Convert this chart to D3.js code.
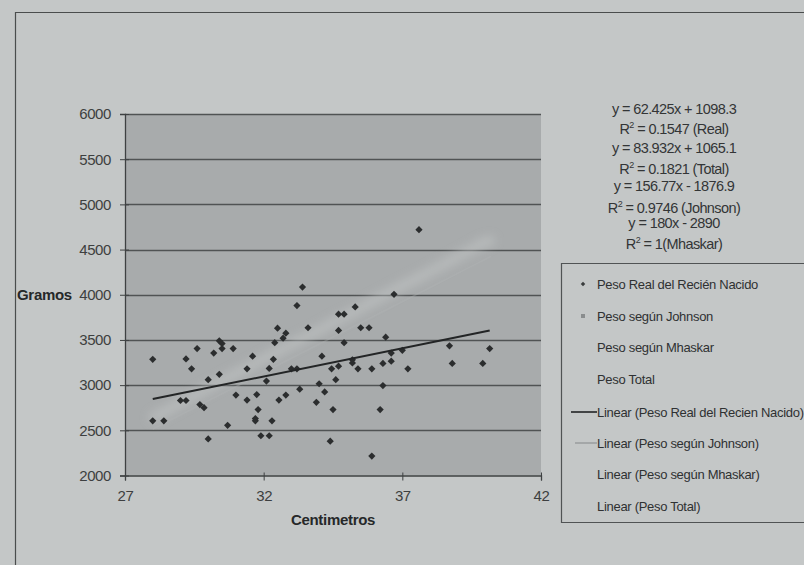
<!DOCTYPE html>
<html>
<head>
<meta charset="utf-8">
<script src="https://cdn.jsdelivr.net/npm/d3@7"></script>
<style>
  body { margin: 0; background: #c4c7c7; }
  text { font-family: "Liberation Sans", Arial, sans-serif; }
</style>
</head>
<body>
<svg id="chart"></svg>
<script>
// Peso real del recién nacido (cm, gramos)
var realCm = [33.2, 34.7, 34.9, 32.5, 32.8, 33.6, 32.7, 34.7, 30.4, 30.5, 30.5, 32.4, 29.6, 30.9, 30.2,
  28.0, 29.2, 31.6, 32.35, 34.1, 29.4, 31.4, 32.2, 33.0, 33.2, 34.45, 34.7, 30.4, 30.0, 32.1, 34.6,
  34.0, 33.3, 34.2, 33.9, 34.5, 34.4, 29.0, 29.2, 29.7, 29.85, 31.0, 31.4, 31.75, 32.55, 32.8, 31.8,
  31.7, 31.7, 32.3, 28.0, 28.4, 30.7, 30.0, 31.9, 32.2, 33.4, 37.6, 36.7, 35.2, 35.2, 35.4, 35.9,
  36.3, 36.6, 36.6, 37.0, 36.4, 37.2, 38.7, 38.8, 39.9, 40.15, 34.9, 35.5, 35.8, 35.3, 36.3, 36.2, 35.9]
var realGr = [3880, 3785, 3785, 3630, 3575, 3635, 3520, 3605, 3490, 3460, 3405, 3470, 3405, 3405, 3355,
  3285, 3290, 3320, 3285, 3320, 3180, 3180, 3185, 3180, 3180, 3180, 3210, 3120, 3060, 3045, 3060,
  3015, 2955, 2925, 2810, 2730, 2380, 2830, 2830, 2785, 2750, 2890, 2835, 2895, 2835, 2890, 2730,
  2630, 2605, 2605, 2605, 2605, 2555, 2405, 2440, 2440, 4085, 4720, 4005, 3280, 3245, 3180, 3180,
  3240, 3265, 3355, 3385, 3530, 3180, 3435, 3240, 3240, 3405, 3470, 3635, 3635, 3865, 2995, 2730, 2215]

// Peso según Johnson: pale points, barely visible in the scan
var johnsonCm = [28.0, 28.4, 29.0, 29.6, 30.2, 30.9, 31.4, 32.0, 32.5, 33.2, 33.9, 34.5, 35.2, 35.9,
  36.4, 37.0, 37.6, 38.7, 39.9, 40.2]
var johnsonGr = [2640, 2700, 2800, 2900, 3000, 3110, 3190, 3290, 3370, 3480, 3590, 3690, 3800, 3920,
  4000, 4100, 4190, 4370, 4570, 4600]

// trendline coefficients [slope, intercept] from the equations
var realFit = [62.425, 1098.3]
var johnsonFit = [156.77, -1876.9]

var xTicks = [27, 32, 37, 42]
var yTicks = [2000, 2500, 3000, 3500, 4000, 4500, 5000, 5500, 6000]

var equationLines = [
  ['y = 62.425x + 1098.3', ''],
  ['R', '2', ' = 0.1547 (Real)'],
  ['y = 83.932x + 1065.1', ''],
  ['R', '2', ' = 0.1821 (Total)'],
  ['y = 156.77x - 1876.9', ''],
  ['R', '2', ' = 0.9746 (Johnson)'],
  ['y = 180x - 2890', ''],
  ['R', '2', ' = 1(Mhaskar)']
]

var legendLabels = ['Peso Real del Recién Nacido', 'Peso según Johnson', 'Peso según Mhaskar',
  'Peso Total', 'Linear (Peso Real del Recien Nacido)', 'Linear (Peso según Johnson)',
  'Linear (Peso según Mhaskar)', 'Linear (Peso Total)']

var svgWidth = 804
var svgHeight = 565
var plotLeft = 125, plotRight = 541, plotTop = 114, plotBottom = 475.5

var svg = d3.select('#chart').attr('width', svgWidth).attr('height', svgHeight)

svg.append('rect').attr('width', svgWidth).attr('height', svgHeight).attr('fill', '#c4c7c7')

// chart frame (left and top edges, rest is cut off)
svg.append('path')
  .attr('d', d3.line()([[15.5, svgHeight], [15.5, 12.5], [svgWidth, 12.5]]))
  .attr('fill', 'none').attr('stroke', '#4a4d4d').attr('stroke-width', 1.2)

var x = d3.scaleLinear().domain([27, 42]).range([plotLeft, plotRight])
var y = d3.scaleLinear().domain([2000, 6000]).range([plotBottom, plotTop])

// plot area
svg.append('rect')
  .attr('x', plotLeft).attr('y', plotTop)
  .attr('width', plotRight - plotLeft).attr('height', plotBottom - plotTop)
  .attr('fill', '#a8abac')

var defs = svg.append('defs')
defs.append('filter').attr('id', 'soft')
  .attr('x', '-20%').attr('y', '-20%').attr('width', '140%').attr('height', '140%')
  .append('feGaussianBlur').attr('stdDeviation', 5)

// gridlines
svg.append('g').selectAll('line')
  .data(yTicks.slice(1)).enter().append('line')
  .attr('x1', plotLeft).attr('x2', plotRight)
  .attr('y1', function(d) { return Math.round(y(d)) + 0.5 })
  .attr('y2', function(d) { return Math.round(y(d)) + 0.5 })
  .attr('stroke', '#505354').attr('stroke-width', 1.3)

// Johnson series: pale blurred band
var johnson = d3.range(johnsonCm.length).map(function(i) { return [johnsonCm[i], johnsonGr[i]] })
var soft = svg.append('g').attr('filter', 'url(#soft)').attr('opacity', 0.55)
soft.append('path')
  .attr('d', d3.line().x(function(d) { return x(d[0]) }).y(function(d) { return y(d[1]) })(johnson))
  .attr('fill', 'none').attr('stroke', '#c3c6c6').attr('stroke-width', 10)
soft.selectAll('circle')
  .data(johnson).enter().append('circle')
  .attr('cx', function(d) { return x(d[0]) }).attr('cy', function(d) { return y(d[1]) })
  .attr('r', 4).attr('fill', '#c6c9c9')

// Johnson trendline (light, nearly lost in the scan)
var fitLine = function(fit, x0, x1) {
  return d3.line()([[x(x0), y(fit[0] * x0 + fit[1])], [x(x1), y(fit[0] * x1 + fit[1])]])
}
svg.append('path')
  .attr('d', fitLine(johnsonFit, 28, 40.2))
  .attr('stroke', '#b2b5b6').attr('stroke-width', 1.5).attr('opacity', 0.35)

// real points
var real = d3.range(realCm.length).map(function(i) { return [realCm[i], realGr[i]] })
var marker = d3.symbol().type(d3.symbolSquare).size(26)
svg.append('g').selectAll('path')
  .data(real).enter().append('path')
  .attr('transform', function(d) { return 'translate(' + x(d[0]) + ',' + y(d[1]) + ') rotate(45)' })
  .attr('d', marker)
  .attr('fill', '#2b2d2e')

// real trendline
svg.append('path')
  .attr('d', fitLine(realFit, d3.min(realCm), d3.max(realCm)))
  .attr('stroke', '#232526').attr('stroke-width', 2)

// axes
var yAxis = svg.append('g')
  .attr('transform', 'translate(' + plotLeft + ',0)')
  .call(d3.axisLeft(y).tickValues(yTicks).tickFormat(d3.format('d')).tickSize(5).tickPadding(9))
var xAxis = svg.append('g')
  .attr('transform', 'translate(0,' + plotBottom + ')')
  .call(d3.axisBottom(x).tickValues(xTicks).tickSize(5).tickPadding(10))

;[yAxis, xAxis].forEach(function(ax) {
  ax.select('.domain').attr('stroke', '#3e4142').attr('stroke-width', 1.3)
  ax.selectAll('.tick line').attr('stroke', '#3e4142')
  ax.selectAll('.tick text')
    .attr('fill', '#3d3f40')
    .style('font-size', '15px')
    .style('letter-spacing', '-0.4px')
    .style('font-family', '"Liberation Sans", Arial, sans-serif')
})
yAxis.selectAll('.tick line').attr('x1', 4)
xAxis.selectAll('.tick line').attr('y1', -3)

// axis titles
svg.append('text')
  .attr('x', 333).attr('y', 525)
  .attr('text-anchor', 'middle')
  .style('font-size', '15px').style('font-weight', 'bold').style('letter-spacing', '-0.3px')
  .attr('fill', '#262829')
  .text('Centimetros')
svg.append('text')
  .attr('x', 17).attr('y', y(4000) + 5)
  .style('font-size', '15px').style('font-weight', 'bold').style('letter-spacing', '-0.3px')
  .attr('fill', '#262829')
  .text('Gramos')

// regression equations
var eqY = [114, 134, 152.5, 173.5, 191, 213, 227.5, 248.5]
svg.append('g').selectAll('text')
  .data(equationLines).enter().append('text')
  .attr('x', 674).attr('y', function(d, i) { return eqY[i] })
  .attr('text-anchor', 'middle')
  .attr('fill', '#333536')
  .style('font-size', '14.5px').style('letter-spacing', '-0.6px')
  .each(function(d) {
    var t = d3.select(this)
    if (d.length === 2) { t.text(d[0]); return }
    t.append('tspan').text(d[0])
    t.append('tspan').attr('dy', -6).style('font-size', '9px').text(d[1])
    t.append('tspan').attr('dy', 6).text(d[2])
  })

// legend
var legendTop = 263.5, legendLeft = 561.5, legendBottom = 522.5
svg.append('path')
  .attr('d', d3.line()([[svgWidth, legendTop], [legendLeft, legendTop], [legendLeft, legendBottom], [svgWidth, legendBottom]]))
  .attr('fill', 'none').attr('stroke', '#505354').attr('stroke-width', 1.2)

var legendY = [284, 316, 347, 379, 412, 443, 474, 506]
var legend = svg.append('g').selectAll('g')
  .data(legendLabels).enter().append('g')
  .attr('transform', function(d, i) { return 'translate(0,' + legendY[i] + ')' })

legend.append('text')
  .attr('x', 597).attr('y', 4.5)
  .attr('fill', '#2f3132')
  .style('font-size', '13px').style('letter-spacing', '-0.3px')
  .text(function(d) { return d })

legend.filter(function(d, i) { return i === 0 }).append('path')
  .attr('transform', 'translate(583,0) rotate(45)')
  .attr('d', d3.symbol().type(d3.symbolSquare).size(10))
  .attr('fill', '#3a3c3d')
legend.filter(function(d, i) { return i === 1 }).append('rect')
  .attr('x', 581).attr('y', -2).attr('width', 4).attr('height', 4)
  .attr('fill', '#8a8d8e')
legend.filter(function(d, i) { return i === 4 }).append('line')
  .attr('x1', 571).attr('x2', 597)
  .attr('stroke', '#222425').attr('stroke-width', 1.6)
legend.filter(function(d, i) { return i === 5 }).append('line')
  .attr('x1', 575).attr('x2', 597)
  .attr('stroke', '#8f9293').attr('stroke-width', 1.2)
</script>
</body>
</html>
